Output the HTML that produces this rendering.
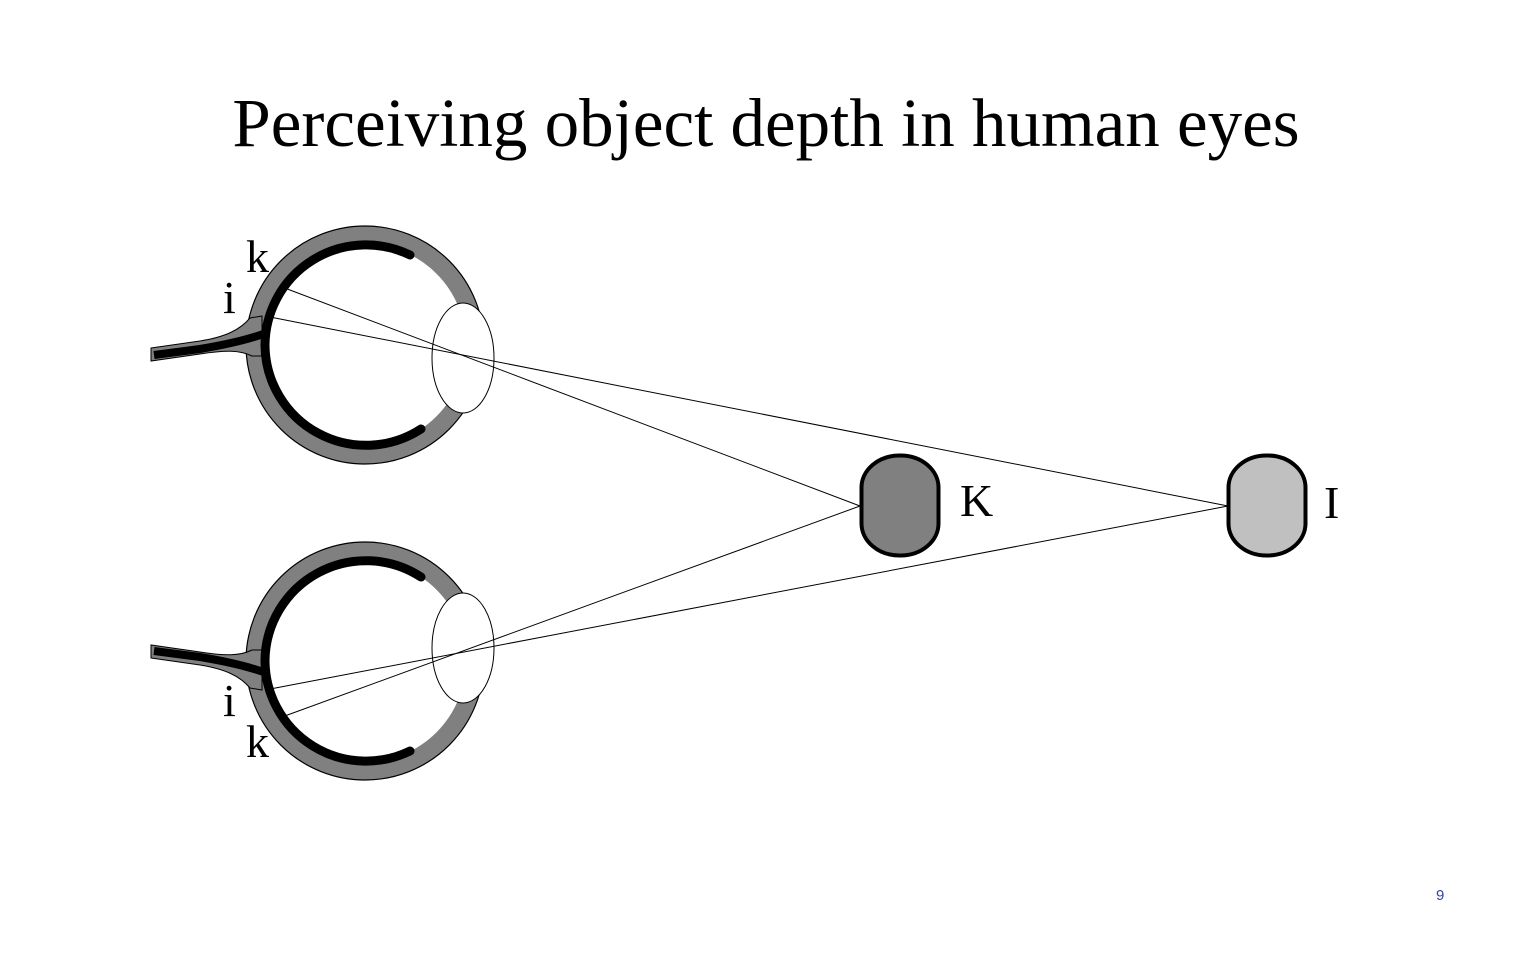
<!DOCTYPE html>
<html><head><style>
html,body{margin:0;padding:0;background:#fff;width:1536px;height:960px;overflow:hidden}
</style></head><body>
<svg width="1536" height="960" viewBox="0 0 1536 960" xmlns="http://www.w3.org/2000/svg">
<rect width="1536" height="960" fill="#fff"/>
<text x="766" y="146" text-anchor="middle" font-family="Liberation Serif, serif" font-size="69" fill="#000">Perceiving object depth in human eyes</text>
<defs>
<g id="eye">
  <circle cx="365" cy="345" r="110" fill="none" stroke="#808080" stroke-width="18"/>
  <circle cx="365" cy="345" r="119" fill="none" stroke="#000" stroke-width="1.2"/>
  <!-- nerve sheath -->
  <path d="M151,348 L200,341 C225,337 240,330 250,318 L262,316 L262,356 L252,356 C240,350 225,350 200,354 L151,361 Z" fill="#808080" stroke="#000" stroke-width="1"/>
  <path d="M154,355 L200,349 C230,344 250,339 266,333" fill="none" stroke="#000" stroke-width="8"/>
  <path d="M265,345 A101 101 0 0 1 410,255" fill="none" stroke="#000" stroke-width="9" stroke-linecap="round"/>
  <path d="M265,345 A101 101 0 0 0 421,429" fill="none" stroke="#000" stroke-width="9" stroke-linecap="round"/>
  <ellipse cx="463" cy="358" rx="31" ry="55" fill="#fff" stroke="#000" stroke-width="1"/>
</g>
</defs>
<use href="#eye"/>
<g transform="translate(0,1006) scale(1,-1)"><use href="#eye"/></g>
<rect x="861.5" y="455.5" width="77" height="100" rx="38" ry="32" fill="#808080" stroke="#000" stroke-width="4"/>
<rect x="1228.5" y="455.5" width="77" height="100" rx="38" ry="32" fill="#c0c0c0" stroke="#000" stroke-width="4"/>
<g stroke="#000" stroke-width="1">
<line x1="282" y1="287" x2="860" y2="506"/>
<line x1="265" y1="316" x2="1228" y2="506"/>
<line x1="265" y1="690" x2="1228" y2="506"/>
<line x1="282" y1="717" x2="860" y2="506"/>
</g>
<g font-family="Liberation Serif, serif" font-size="46" fill="#000">
<text x="246" y="272">k</text>
<text x="223" y="313">i</text>
<text x="223" y="716">i</text>
<text x="246" y="757">k</text>
<text x="960" y="516">K</text>
<text x="1324" y="518">I</text>
</g>
<text x="1436" y="900" font-family="Liberation Sans, sans-serif" font-size="15" fill="#3344aa">9</text>
</svg>
</body></html>
